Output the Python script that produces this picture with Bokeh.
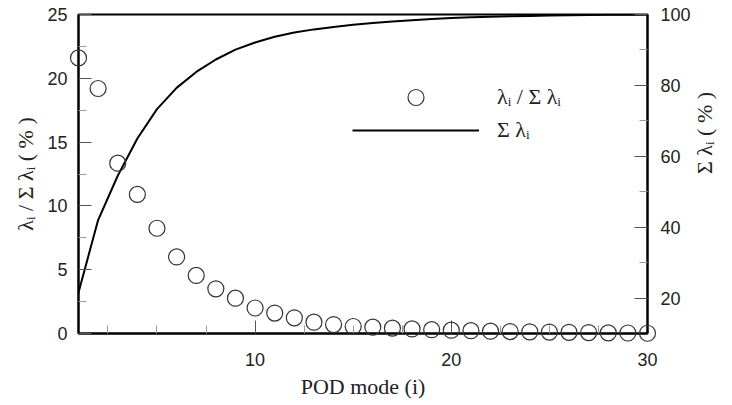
import math
from bokeh.plotting import figure
from bokeh.models import Range1d, LinearAxis, FixedTicker, Legend, LegendItem
from bokeh.embed import file_html
from bokeh.resources import INLINE

# ---- data ----
modes = list(range(1, 31))
eig_pct = [21.6, 19.2, 13.35, 10.9, 8.25, 6.0, 4.55, 3.5, 2.77, 2.0,
           1.6, 1.23, 0.89, 0.7, 0.55, 0.5, 0.42, 0.36, 0.3, 0.26,
           0.22, 0.18, 0.15, 0.13, 0.11, 0.09, 0.07, 0.05, 0.04, 0.02]
cum_pct = [21.6, 42.0, 54.5, 65.0, 73.3, 79.3, 83.8, 87.3, 90.1, 92.1,
           93.7, 94.9, 95.8, 96.5, 97.1, 97.6, 98.0, 98.4, 98.7, 99.0,
           99.2, 99.4, 99.5, 99.6, 99.7, 99.8, 99.85, 99.9, 99.95, 100.0]
x_major = [10, 20, 30]
x_minor = [2.5, 5, 7.5, 12.5, 15, 17.5, 22.5, 25, 27.5]
yl_major = [0, 5, 10, 15, 20, 25]
yl_minor = [2.5, 7.5, 12.5, 17.5, 22.5]
yr_major = [20, 40, 60, 80, 100]
yr_minor = [30, 50, 70, 90]

p = figure(width=732, height=405, output_backend="svg", toolbar_location=None,
           x_range=Range1d(1, 30), y_range=Range1d(0, 25),
           min_border_left=78, min_border_right=79, min_border_top=14, min_border_bottom=72)
p.extra_y_ranges = {"right": Range1d(10, 100)}
p.xgrid.visible = False
p.ygrid.visible = False
p.outline_line_color = "black"
p.outline_line_width = 2
p.background_fill_color = "white"
p.border_fill_color = "white"

raxis = LinearAxis(y_range_name="right")
p.add_layout(raxis, "right")

p.xaxis.ticker = FixedTicker(ticks=x_major, minor_ticks=x_minor)
p.yaxis[0].ticker = FixedTicker(ticks=yl_major, minor_ticks=yl_minor)
raxis.ticker = FixedTicker(ticks=yr_major, minor_ticks=yr_minor)

p.xaxis.axis_label = "POD mode (i)"
p.yaxis[0].axis_label = "λᵢ / Σ λᵢ ( % )"
raxis.axis_label = "Σ λᵢ ( % )"
raxis.axis_label_orientation = math.pi / 2

for ax in [p.xaxis[0], p.yaxis[0], raxis]:
    ax.axis_line_color = "black"
    ax.axis_line_width = 2
    ax.major_tick_in = 13
    ax.major_tick_out = 0
    ax.minor_tick_in = 8
    ax.minor_tick_out = 0
    ax.major_tick_line_color = "#555555"
    ax.minor_tick_line_color = "#999999"
    ax.major_label_text_font = "Liberation Sans"
    ax.major_label_text_font_size = "18px"
    ax.major_label_text_color = "#222222"
    ax.axis_label_text_font = "Liberation Serif"
    ax.axis_label_text_font_size = "22px"
    ax.axis_label_text_font_style = "normal"
    ax.axis_label_text_color = "#222222"

p.xaxis.major_label_standoff = 19
p.xaxis.axis_label_standoff = 5
p.yaxis[0].major_label_standoff = 11
p.yaxis[0].axis_label_standoff = 6
raxis.major_label_standoff = 13
raxis.axis_label_standoff = 11

line = p.line(modes, cum_pct, y_range_name="right", line_color="black", line_width=2)
circ = p.scatter(modes, eig_pct, marker="circle", size=16, fill_color=None,
                 line_color="#333333", line_width=1.2, level="overlay")

common = dict(orientation="vertical", glyph_width=127, glyph_height=40, label_height=40,
              padding=0, margin=0, label_standoff=18,
              border_line_alpha=0, background_fill_alpha=0,
              label_text_font="Liberation Serif", label_text_font_size="22px",
              label_text_color="#222222")
legend1 = Legend(items=[LegendItem(label="λᵢ / Σ λᵢ", renderers=[circ])],
                 location=(274, 216), **common)
legend2 = Legend(items=[LegendItem(label="Σ λᵢ", renderers=[line])],
                 location=(274, 183), **common)
p.add_layout(legend1, "center")
p.add_layout(legend2, "center")

open("out.html", "w").write(file_html(p, INLINE))
